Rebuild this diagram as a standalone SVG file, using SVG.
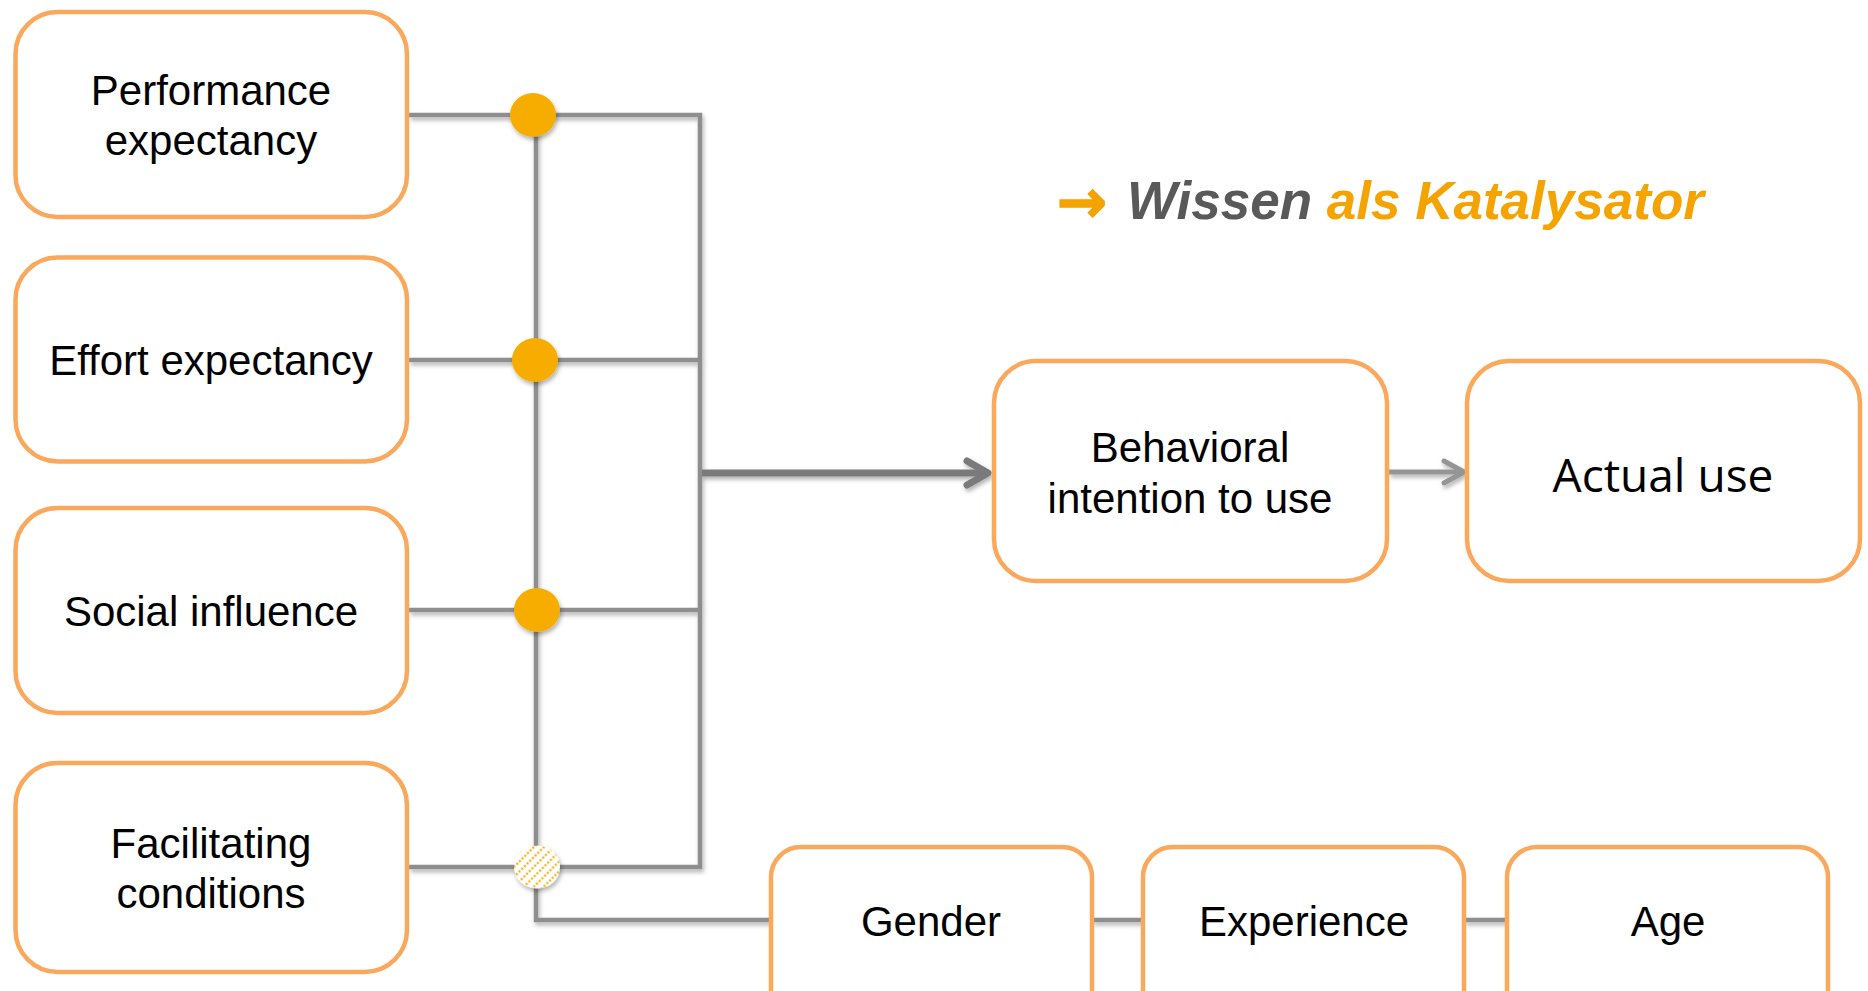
<svg xmlns="http://www.w3.org/2000/svg" width="1868" height="991" viewBox="0 0 1868 991">
  <style>
    .box { fill: #ffffff; stroke: #FAA85C; stroke-width: 4.5; }
    .lbl { font-family: "Liberation Sans", Arial, sans-serif; font-size: 42px; fill: #000000; text-anchor: middle; }
    .lbl2 { font-family: "Open Sans", "Liberation Sans", sans-serif; font-size: 46px; fill: #000000; text-anchor: middle; }
    .bus { fill: none; stroke: #8E8E8E; stroke-width: 4.5; stroke-linejoin: miter; }
    .main { fill: none; stroke: #7A7A7A; stroke-width: 7; }
    .sec { fill: none; stroke: #959595; stroke-width: 5; }
    .dot { fill: #F6AD00; }
    .title { font-family: "Liberation Sans", Arial, sans-serif; font-size: 53px; font-weight: bold; font-style: italic; }
  </style>
  <defs>
    <filter id="shadow" x="-10%" y="-10%" width="120%" height="130%">
      <feDropShadow dx="1.5" dy="3" stdDeviation="2" flood-color="#000000" flood-opacity="0.3"/>
    </filter>
    <marker id="headMain" viewBox="-30 -18 36 36" markerWidth="36" markerHeight="36" refX="0" refY="0" markerUnits="userSpaceOnUse" orient="auto">
      <path d="M-21,-12 L0,0 L-21,12" fill="none" stroke="#7A7A7A" stroke-width="7" stroke-linejoin="round" stroke-linecap="round"/>
    </marker>
    <marker id="headSec" viewBox="-30 -18 36 36" markerWidth="36" markerHeight="36" refX="0" refY="0" markerUnits="userSpaceOnUse" orient="auto">
      <path d="M-20,-11 L0,0 L-20,11" fill="none" stroke="#959595" stroke-width="5" stroke-linejoin="round" stroke-linecap="round"/>
    </marker>
    <pattern id="hatch" width="7" height="3.8" patternUnits="userSpaceOnUse" patternTransform="rotate(45)">
      <rect width="7" height="3.8" fill="#ffffff"/>
      <circle cx="3.5" cy="1.9" r="1.2" fill="#F6AD00"/>
    </pattern>
  </defs>

  <rect x="0" y="0" width="1868" height="991" fill="#ffffff"/>

  <g id="connectors" filter="url(#shadow)">
    <path class="bus" d="M409,115 H700 V867 H409"/>
    <path class="bus" d="M409,360 H700"/>
    <path class="bus" d="M409,610 H700"/>
    <path class="bus" d="M536,115 V920 H771"/>
    <path class="bus" d="M1092,920 H1143"/>
    <path class="bus" d="M1464,920 H1507"/>
    <path class="main" d="M702,473 H988" marker-end="url(#headMain)"/>
    <path class="sec" d="M1389,472 H1464" marker-end="url(#headSec)"/>
  </g>

  <g id="junctions" filter="url(#shadow)">
    <ellipse class="dot" cx="533" cy="115" rx="23" ry="22"/>
    <ellipse class="dot" cx="535" cy="360" rx="23" ry="22"/>
    <ellipse class="dot" cx="537" cy="610" rx="23" ry="22"/>
    <ellipse cx="537" cy="867" rx="23" ry="21.5" fill="url(#hatch)"/>
  </g>

  <g id="performance">
    <rect class="box" x="15.5" y="12" width="391.5" height="205" rx="42"/>
    <text class="lbl" x="211" y="105">Performance</text>
    <text class="lbl" x="211" y="155">expectancy</text>
  </g>
  <g id="effort">
    <rect class="box" x="15.5" y="257.5" width="391.5" height="204" rx="42"/>
    <text class="lbl" x="211" y="375">Effort expectancy</text>
  </g>
  <g id="social">
    <rect class="box" x="15.5" y="508" width="391.5" height="205" rx="42"/>
    <text class="lbl" x="211" y="626">Social influence</text>
  </g>
  <g id="facilitating">
    <rect class="box" x="15.5" y="763" width="391.5" height="209" rx="42"/>
    <text class="lbl" x="211" y="858">Facilitating</text>
    <text class="lbl" x="211" y="908">conditions</text>
  </g>

  <g id="behavioral">
    <rect class="box" x="994" y="361" width="393" height="220" rx="42"/>
    <text class="lbl" x="1190" y="462">Behavioral</text>
    <text class="lbl" x="1190" y="513">intention to use</text>
  </g>
  <g id="actual-use">
    <rect class="box" x="1467" y="361" width="393" height="220" rx="42"/>
    <text class="lbl2" x="1663" y="492">Actual use</text>
  </g>

  <g id="gender">
    <rect class="box" x="771" y="847" width="321" height="175" rx="30"/>
    <text class="lbl" x="931" y="936">Gender</text>
  </g>
  <g id="experience">
    <rect class="box" x="1143" y="847" width="321" height="175" rx="30"/>
    <text class="lbl" x="1304" y="936">Experience</text>
  </g>
  <g id="age">
    <rect class="box" x="1507" y="847" width="321" height="175" rx="30"/>
    <text class="lbl" x="1668" y="936">Age</text>
  </g>

  <g id="title">
    <text class="title" y="219"><tspan x="1057" y="222" fill="#F5A300" font-family="DejaVu Sans, sans-serif" font-style="normal" font-size="60" stroke="#F5A300" stroke-width="1.5">→</tspan><tspan x="1127" y="219" fill="#595959">Wissen</tspan><tspan fill="#F5A300"> als Katalysator</tspan></text>
  </g>
</svg>
